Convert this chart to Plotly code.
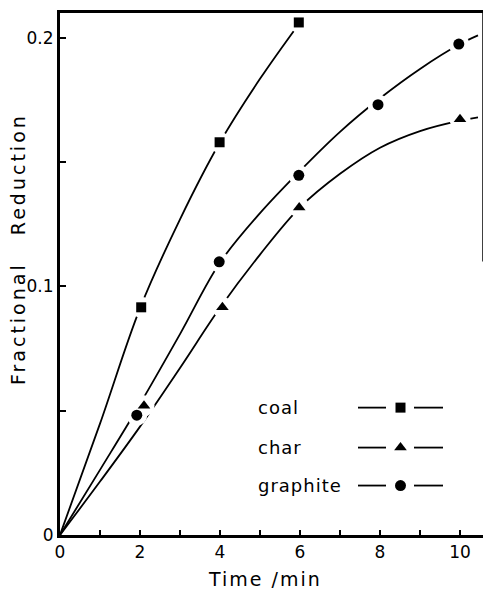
import plotly.graph_objects as go

# ---- axis ticks ----
time_ticks = [0, 1, 2, 3, 4, 5, 6, 7, 8, 9, 10]
time_tick_labels = ["0", "", "2", "", "4", "", "6", "", "8", "", "10"]
fr_ticks = [0, 0.05, 0.1, 0.15, 0.2]
fr_tick_labels = ["0", "", "0.1", "", "0.2"]

# ---- measured points (time / min, fractional reduction) ----
coal_t = [2.03, 3.99, 5.97]
coal_fr = [0.0916, 0.158, 0.2062]
char_t = [2.1, 4.06, 5.98, 10.0]
char_fr = [0.052, 0.0916, 0.1318, 0.1673]
graphite_t = [1.92, 3.98, 5.97, 7.95, 9.97]
graphite_fr = [0.0482, 0.1099, 0.1447, 0.1731, 0.1975]

# ---- hand-drawn smooth curves ----
coal_curve_t = [0, 1, 2, 3, 4, 5, 6]
coal_curve_fr = [0, 0.0448, 0.0912, 0.127, 0.158, 0.1835, 0.2062]
char_curve_t = [0, 1, 2, 3, 4, 5, 6, 7, 8, 9, 10, 10.45]
char_curve_fr = [0, 0.0215, 0.0436, 0.0672, 0.0914, 0.1128, 0.1318, 0.1453, 0.1558, 0.1625, 0.1667, 0.1680]
graphite_curve_t = [0, 1, 2, 3, 4, 5, 6, 7, 8, 9, 10, 10.45]
graphite_curve_fr = [0, 0.0262, 0.0527, 0.0808, 0.1096, 0.1295, 0.1465, 0.1622, 0.1757, 0.1875, 0.1975, 0.2010]

legend_names = ["coal", "char", "graphite"]
legend_symbols = ["square", "triangle-up", "circle"]

FONT = "DejaVu Sans"
X_MAX = 10.575
Y_MAX = 0.21

fig = go.Figure()

curves = [(coal_curve_t, coal_curve_fr), (char_curve_t, char_curve_fr),
          (graphite_curve_t, graphite_curve_fr)]
points = [(coal_t, coal_fr, "square", 10), (char_t, char_fr, "triangle-up", 11),
          (graphite_t, graphite_fr, "circle", 11)]

for ct, cf in curves:
    fig.add_trace(go.Scatter(x=ct, y=cf, mode="lines",
                             line=dict(color="black", width=1.8, shape="spline", smoothing=1.0),
                             showlegend=False, hoverinfo="skip"))
# white halos that break the curves around each marker, as in the drawing
for pt, pf, sym, sz in points:
    fig.add_trace(go.Scatter(x=pt, y=pf, mode="markers",
                             marker=dict(symbol="circle", size=21, color="white", line=dict(width=0)),
                             showlegend=False, hoverinfo="skip"))
for (pt, pf, sym, sz), name in zip(points, legend_names):
    fig.add_trace(go.Scatter(x=pt, y=pf, mode="markers", name=name,
                             marker=dict(symbol=sym, size=sz, color="black", line=dict(width=0)),
                             showlegend=False))

# ---- hand-made legend on an overlay pixel-like axis ----
leg_y = [408, 448, 486]
for name, sym, ly in zip(legend_names, legend_symbols, leg_y):
    fig.add_trace(go.Scatter(x=[358, 386, None, 414, 443], y=[ly, ly, None, ly, ly],
                             mode="lines", line=dict(color="black", width=1.8),
                             xaxis="x2", yaxis="y2", showlegend=False, hoverinfo="skip"))
    fig.add_trace(go.Scatter(x=[400.5], y=[ly], mode="markers",
                             marker=dict(symbol=sym, size=10 if sym == "square" else 11, color="black"),
                             xaxis="x2", yaxis="y2", showlegend=False, hoverinfo="skip"))
    fig.add_annotation(x=256, y=ly, xref="x2", yref="y2",
                       text='<span style="letter-spacing:1px">' + name + '</span>',
                       showarrow=False, xanchor="left", yanchor="middle",
                       font=dict(family=FONT, size=18, color="black"))

fig.update_layout(
    width=485, height=592,
    margin=dict(l=60, r=2, t=13, b=57),
    paper_bgcolor="white", plot_bgcolor="white",
    showlegend=False,
    xaxis=dict(range=[0, X_MAX], tickmode="array", tickvals=time_ticks, ticktext=time_tick_labels,
               ticks="inside", ticklen=5, tickwidth=1.5, tickcolor="black",
               showline=True, linewidth=2.5, linecolor="black", mirror=True,
               showgrid=False, zeroline=False,
               tickfont=dict(family=FONT, size=17, color="black")),
    yaxis=dict(range=[0, Y_MAX], tickmode="array", tickvals=fr_ticks, ticktext=fr_tick_labels,
               ticks="inside", ticklen=6, tickwidth=1.5, tickcolor="black",
               showline=True, linewidth=3, linecolor="black",
               showgrid=False, zeroline=False,
               tickfont=dict(family=FONT, size=17, color="black")),
    xaxis2=dict(range=[60, 483], overlaying="x", visible=False, fixedrange=True),
    yaxis2=dict(range=[535.5, 13], overlaying="y", visible=False, fixedrange=True),
)

# partially visible right frame line
fig.add_shape(type="line", xref="x", yref="y", x0=X_MAX, x1=X_MAX, y0=0.11, y1=Y_MAX,
              line=dict(color="black", width=1.5))

fig.add_annotation(x=0.4846, y=-0.085, xref="paper", yref="paper",
                   text='<span style="letter-spacing:2px">Time /min</span>',
                   showarrow=False, xanchor="center", yanchor="middle",
                   font=dict(family=FONT, size=19, color="black"))
fig.add_annotation(x=-0.099, y=0.548, xref="paper", yref="paper",
                   text='<span style="letter-spacing:3px">Fractional\u00a0\u00a0\u00a0Reduction</span>',
                   textangle=-90, showarrow=False, xanchor="center", yanchor="middle",
                   font=dict(family=FONT, size=19, color="black"))

fig.write_html("out.html")
